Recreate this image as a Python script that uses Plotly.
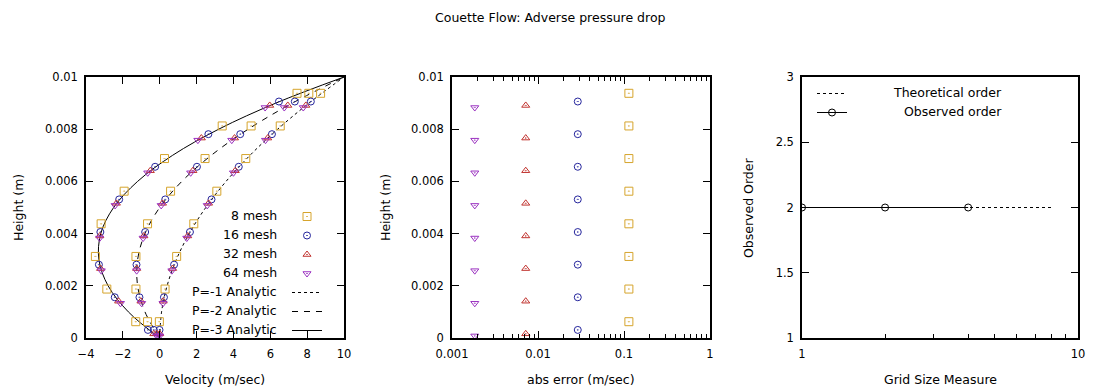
import plotly.graph_objects as go

# the page body has an 8px margin; the figure is sized to fit inside the 1100x392 window
OFF = 8
W, H = 1100 - OFF, 392 - OFF

# ---------------- data ----------------
title_text = "Couette Flow: Adverse pressure drop"
mesh_labels = ["8 mesh", "16 mesh", "32 mesh", "64 mesh"]
analytic_labels = ["P=-1 Analytic", "P=-2 Analytic", "P=-3 Analytic"]
order_labels = ["Theoretical order", "Observed order"]

# analytic velocity profiles
analytic_height = [0.0, 0.001, 0.002, 0.003, 0.004, 0.005, 0.006, 0.007, 0.008, 0.009, 0.01]
analytic_p1 = [0.0, 0.1, 0.4, 0.9, 1.6, 2.5, 3.6, 4.9, 6.4, 8.1, 10.0]
analytic_p2 = [0.0, -0.8, -1.2, -1.2, -0.8, 0.0, 1.2, 2.8, 4.8, 7.2, 10.0]
analytic_p3 = [0.0, -1.7, -2.8, -3.3, -3.2, -2.5, -1.2, 0.7, 3.2, 6.3, 10.0]

# sample heights for each mesh
h8 = [0.000625, 0.001875, 0.003125, 0.004375, 0.005625, 0.006875, 0.008125, 0.009375]
h16 = [0.00031, 0.00156, 0.00281, 0.00406, 0.00531, 0.00656, 0.00781, 0.00906]
h32 = [0.00016, 0.00141, 0.00266, 0.00391, 0.00516, 0.00641, 0.00766, 0.00891]
h64 = [0.00008, 0.00133, 0.00258, 0.00383, 0.00508, 0.00633, 0.00758, 0.00883]

# numerical velocities (three pressure cases per mesh)
v8_p1 = [-0.02, 0.29, 0.92, 1.85, 3.10, 4.67, 6.54, 8.73]
v8_p2 = [-0.66, -1.29, -1.29, -0.66, 0.59, 2.46, 4.96, 8.09]
v8_p3 = [-1.30, -2.87, -3.49, -3.18, -1.93, 0.26, 3.39, 7.45]
v16_p1 = [-0.01, 0.23, 0.78, 1.64, 2.81, 4.29, 6.09, 8.20]
v16_p2 = [-0.32, -1.10, -1.26, -0.79, 0.30, 2.02, 4.37, 7.33]
v16_p3 = [-0.64, -2.44, -3.30, -3.22, -2.20, -0.25, 2.64, 6.47]
v32_p1 = [0.00, 0.19, 0.70, 1.52, 2.65, 4.10, 5.86, 7.93]
v32_p2 = [-0.16, -1.02, -1.25, -0.86, 0.15, 1.80, 4.06, 6.95]
v32_p3 = [-0.32, -2.23, -3.21, -3.25, -2.35, -0.51, 2.26, 5.97]
v64_p1 = [0.00, 0.18, 0.66, 1.47, 2.58, 4.00, 5.74, 7.79]
v64_p2 = [-0.08, -0.98, -1.25, -0.90, 0.08, 1.68, 3.91, 6.76]
v64_p3 = [-0.16, -2.13, -3.17, -3.26, -2.42, -0.65, 2.07, 5.72]

# absolute errors per mesh
err8 = [0.114, 0.114, 0.114, 0.114, 0.114, 0.114, 0.114, 0.114]
err16 = [0.029, 0.029, 0.029, 0.029, 0.029, 0.029, 0.029, 0.029]
err32 = [0.0072, 0.0072, 0.0072, 0.0072, 0.0072, 0.0072, 0.0072, 0.0072]
err64 = [0.00184, 0.00184, 0.00184, 0.00184, 0.00184, 0.00184, 0.00184, 0.00184]

# observed order of accuracy
grid_measure = [1, 2, 4]
observed_order = [2, 2, 2]
theory_grid = [1, 2, 4, 8]
theory_order = [2, 2, 2, 2]

# ---------------- style ----------------
FONT = "DejaVu Sans"
C8, C16, C32, C64 = "#d6a42c", "#24249c", "#c0302c", "#9a30c0"
mesh_style = [
    ("square-open-dot", C8, 8),
    ("circle-open-dot", C16, 7),
    ("triangle-up-open-dot", C32, 7),
    ("triangle-down-open-dot", C64, 7),
]
mesh_h = [h8, h16, h32, h64]
mesh_v = [
    v8_p1 + v8_p2 + v8_p3,
    v16_p1 + v16_p2 + v16_p3,
    v32_p1 + v32_p2 + v32_p3,
    v64_p1 + v64_p2 + v64_p3,
]
mesh_err = [err8, err16, err32, err64]

# window-pixel -> paper fraction
def px_x(p):
    return (p - OFF) / W

def px_y(p):
    return 1 - (p - OFF) / H

fig = go.Figure()

# analytic lines (left panel)
dashes = ["dot", "6px,6px", "solid"]
for i, vals in enumerate([analytic_p1, analytic_p2, analytic_p3]):
    fig.add_trace(go.Scatter(
        x=vals, y=analytic_height, mode="lines", name="",
        line=dict(color="black", width=1, dash=dashes[i], shape="spline"),
        xaxis="x", yaxis="y", legend="legend", legendrank=10 + i, hoverinfo="skip",
    ))

# mesh points (left panel)
for i, (sym, col, sz) in enumerate(mesh_style):
    fig.add_trace(go.Scatter(
        x=mesh_v[i], y=mesh_h[i] * 3, mode="markers", name="",
        marker=dict(symbol=sym, color=col, size=sz, line=dict(color=col, width=1)),
        xaxis="x", yaxis="y", legend="legend", legendrank=i + 1,
    ))

# errors (middle panel)
for i, (sym, col, sz) in enumerate(mesh_style):
    fig.add_trace(go.Scatter(
        x=mesh_err[i], y=mesh_h[i], mode="markers", showlegend=False,
        marker=dict(symbol=sym, color=col, size=sz, line=dict(color=col, width=1)),
        xaxis="x2", yaxis="y2",
    ))

# order (right panel)
fig.add_trace(go.Scatter(
    x=theory_grid, y=theory_order, mode="lines", name="",
    line=dict(color="black", width=1, dash="dot"),
    xaxis="x3", yaxis="y3", legend="legend2", legendrank=1,
))
fig.add_trace(go.Scatter(
    x=grid_measure, y=observed_order, mode="lines+markers", name="",
    line=dict(color="black", width=1),
    marker=dict(symbol="circle-open", color="black", size=7, line=dict(width=1)),
    xaxis="x3", yaxis="y3", legend="legend2", legendrank=2,
))

ydom = [px_y(338), px_y(77)]
tickfont = dict(family=FONT, size=11.5, color="black")
common = dict(showline=True, linecolor="black", linewidth=1.5, mirror="allticks",
              ticks="inside", ticklen=7, tickwidth=1, tickcolor="black",
              showgrid=False, zeroline=False, automargin=False, tickfont=tickfont)

log_minor_mid = [m * 10 ** e for e in (-3, -2, -1) for m in range(2, 10)]
log_minor_right = [m for m in range(2, 10)]

XSTAND, YSTAND = 4, 4

fig.update_layout(
    width=W, height=H, margin=dict(l=0, r=0, t=0, b=0),
    paper_bgcolor="white", plot_bgcolor="white",
    font=dict(family=FONT, color="black"),
    xaxis=dict(domain=[px_x(86), px_x(344)], range=[-4, 10], dtick=2, anchor="y",
               ticklabelstandoff=XSTAND, **common),
    yaxis=dict(domain=ydom, range=[0, 0.01], dtick=0.002, anchor="x",
               ticklabelstandoff=YSTAND, **common),
    xaxis2=dict(domain=[px_x(452), px_x(710)], type="log", range=[-3, 0], anchor="y2",
                tickvals=[0.001, 0.01, 0.1, 1], ticktext=["0.001", "0.01", "0.1", "1"],
                minor=dict(tickvals=log_minor_mid, ticks="inside", ticklen=4, tickcolor="black", showgrid=False),
                ticklabelstandoff=XSTAND, **common),
    yaxis2=dict(domain=ydom, range=[0, 0.01], dtick=0.002, anchor="x2",
                ticklabelstandoff=YSTAND, **common),
    xaxis3=dict(domain=[px_x(802), px_x(1078)], type="log", range=[0, 1], anchor="y3",
                tickvals=[1, 10], ticktext=["1", "10"],
                minor=dict(tickvals=log_minor_right, ticks="inside", ticklen=4, tickcolor="black", showgrid=False),
                ticklabelstandoff=XSTAND, **{**common, "mirror": True}),
    yaxis3=dict(domain=ydom, range=[1, 3], dtick=0.5, anchor="x3",
                ticklabelstandoff=YSTAND, **common),
    legend=dict(x=px_x(287), y=px_y(202), xanchor="left", yanchor="top",
                bgcolor="rgba(0,0,0,0)", borderwidth=0, traceorder="normal",
                font=dict(family=FONT, size=10), itemwidth=30),
    legend2=dict(x=px_x(812), y=px_y(79), xanchor="left", yanchor="top",
                 bgcolor="rgba(0,0,0,0)", borderwidth=0, traceorder="normal",
                 font=dict(family=FONT, size=10), itemwidth=30),
    showlegend=True,
)

ann = []
ann.append(dict(text=title_text, x=px_x(550), y=1, xref="paper", yref="paper",
                showarrow=False, xanchor="center", yanchor="top",
                font=dict(family=FONT, size=12.5, color="black")))
axis_font = dict(family=FONT, size=12.5, color="black")
for txt, cx in [("Velocity (m/sec)", 215), ("abs error (m/sec)", 581), ("Grid Size Measure", 940)]:
    ann.append(dict(text=txt, x=px_x(cx), y=px_y(379), xref="paper", yref="paper",
                    showarrow=False, xanchor="center", yanchor="middle", font=axis_font))
for txt, cx in [("Height (m)", 18), ("Height (m)", 385), ("Observed Order", 748)]:
    ann.append(dict(text=txt, x=px_x(cx), y=px_y(208), xref="paper", yref="paper", textangle=-90,
                    showarrow=False, xanchor="center", yanchor="middle", font=axis_font))

leg_font = dict(family=FONT, size=12.5, color="black")
leg_rows = [215, 234, 253, 272, 291, 310, 329]
for txt, ry in zip(mesh_labels + analytic_labels, leg_rows):
    ann.append(dict(text=txt, x=px_x(279), y=px_y(ry), xref="paper", yref="paper",
                    showarrow=False, xanchor="right", yanchor="middle", font=leg_font))
for txt, ry in zip(order_labels, [92, 111]):
    ann.append(dict(text=txt, x=px_x(1004), y=px_y(ry), xref="paper", yref="paper",
                    showarrow=False, xanchor="right", yanchor="middle", font=leg_font))
fig.update_layout(annotations=ann)

fig.write_html("out.html")
